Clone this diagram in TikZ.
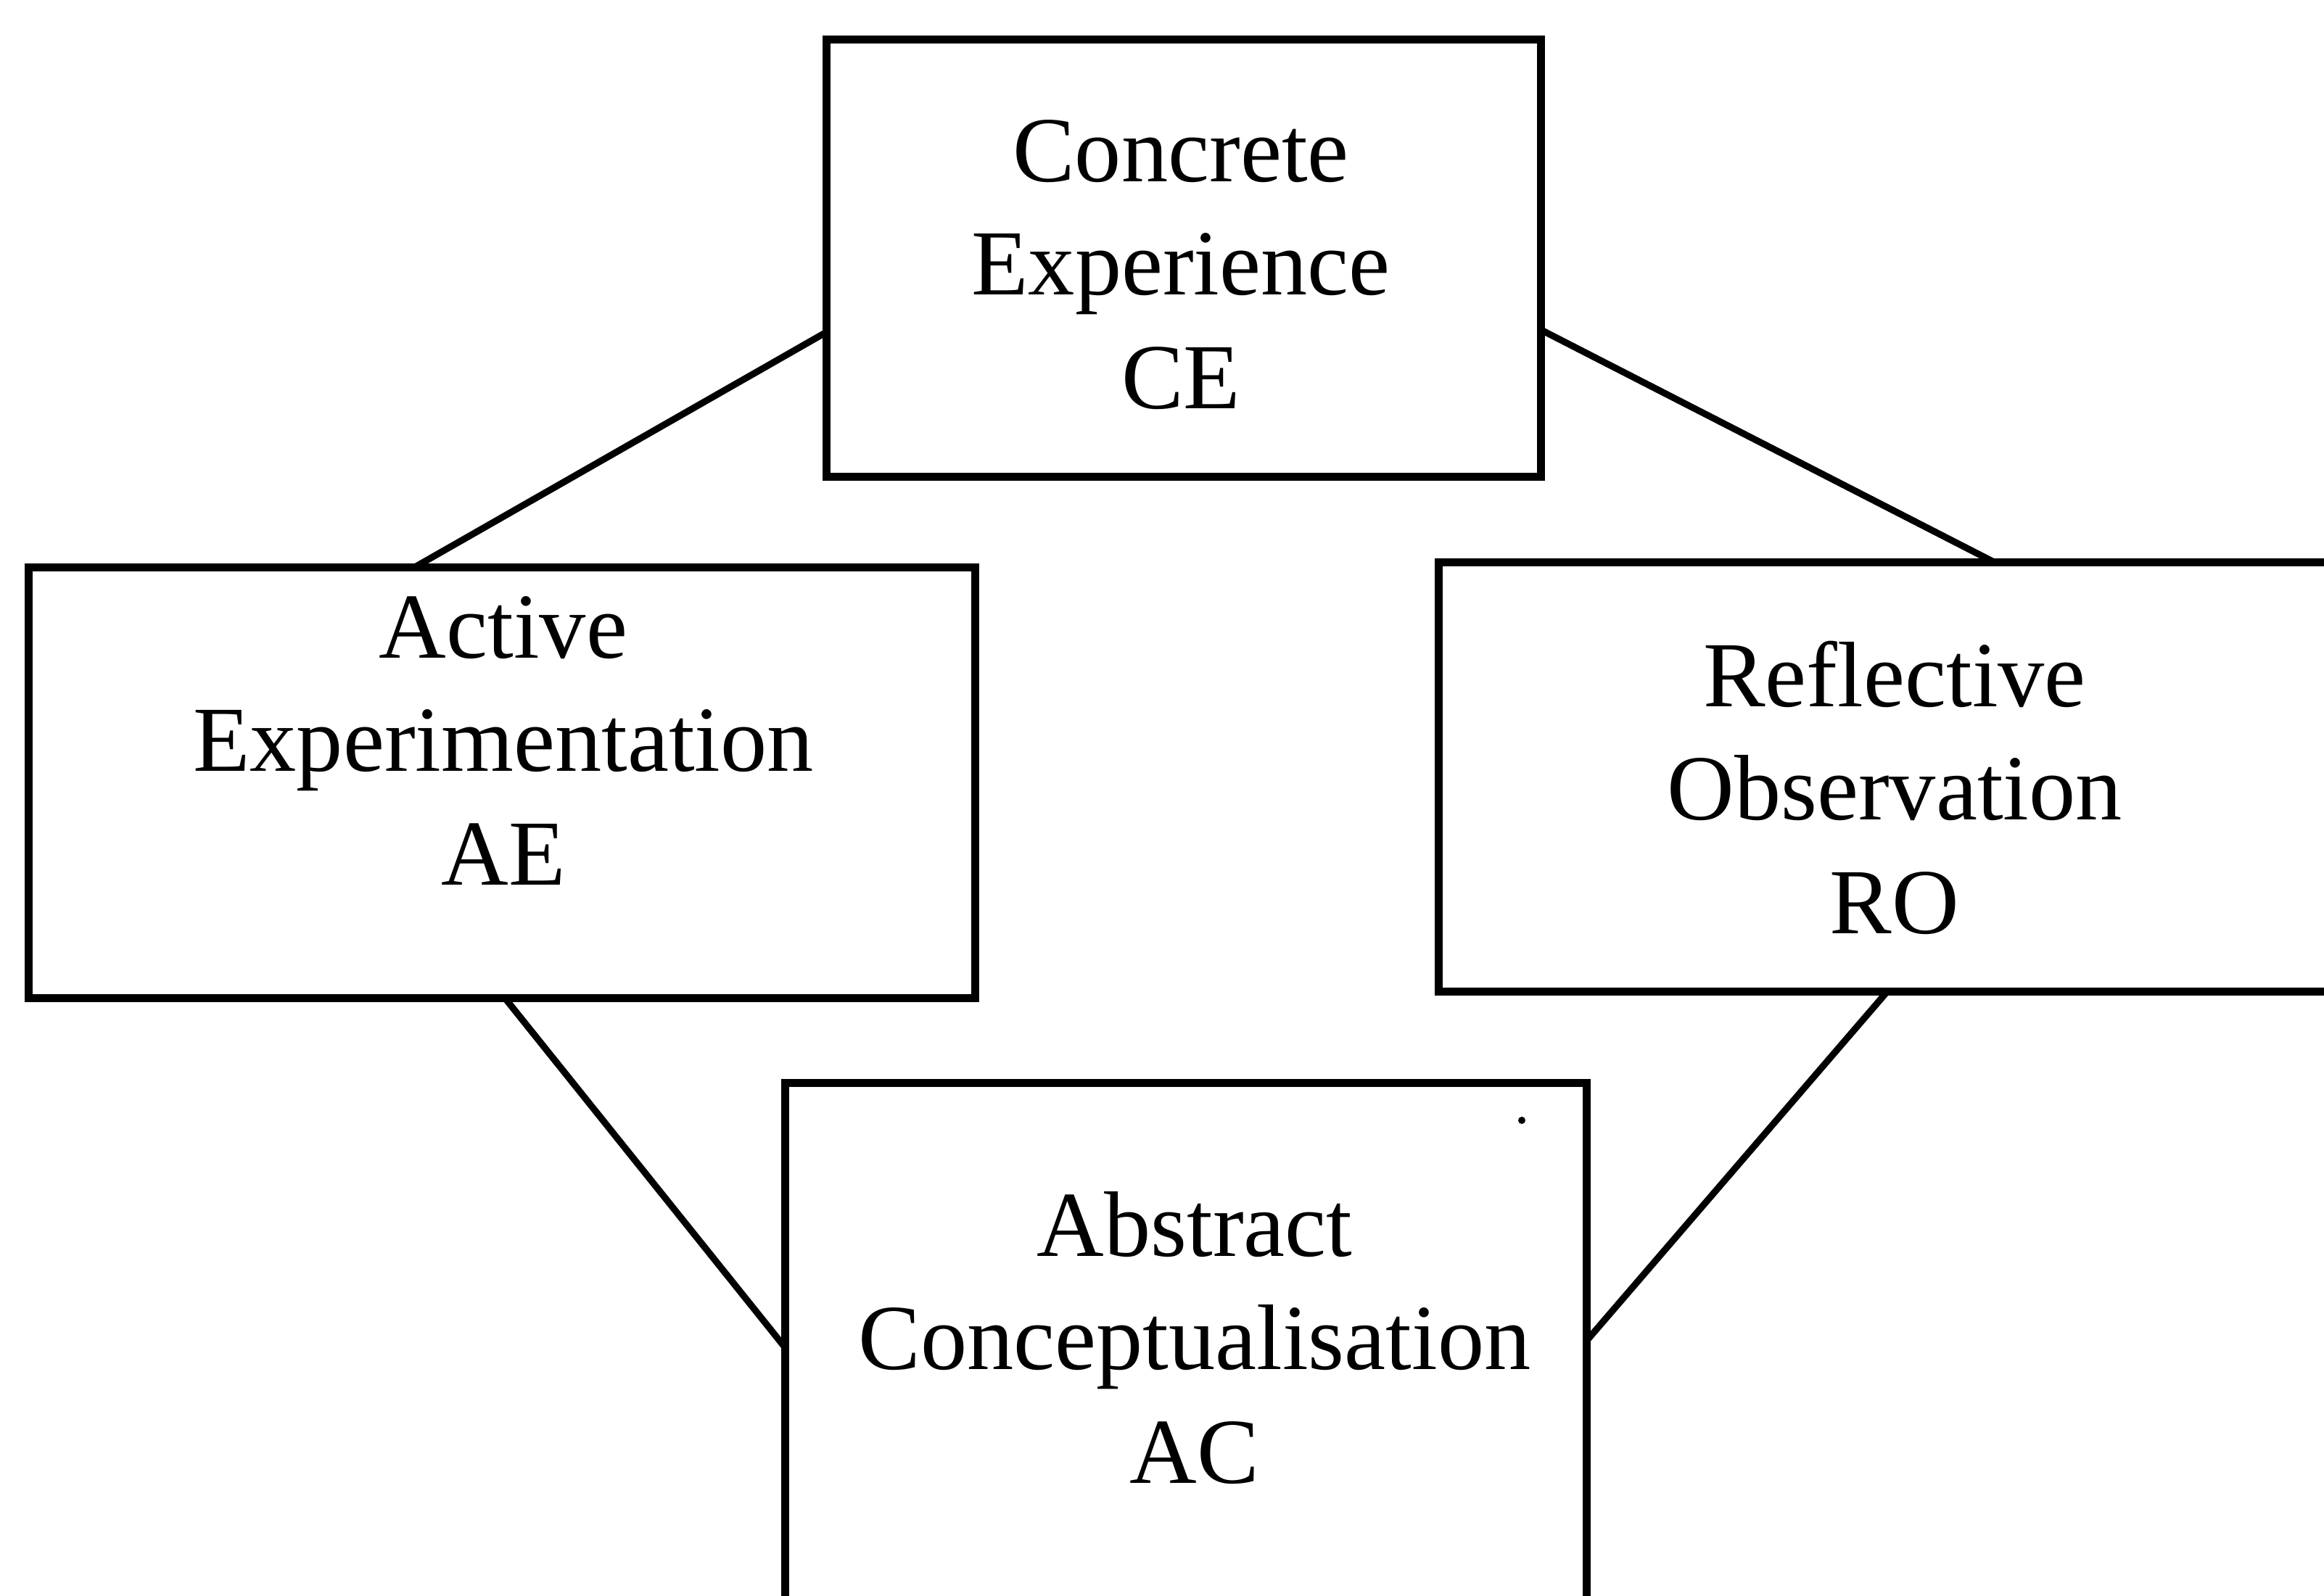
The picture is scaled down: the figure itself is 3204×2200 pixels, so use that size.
\documentclass[tikz,border=0pt]{standalone}
\usepackage{fontspec}
\setmainfont{Liberation Serif}
\usetikzlibrary{calc}
\begin{document}
\begin{tikzpicture}[x=0.01cm,y=-0.01cm,
  stagebox/.style={draw=black,line width=3.2pt,fill=none,inner sep=0pt,outer sep=0pt},
  stagetext/.style={anchor=base,align=center,inner sep=0pt,
    font=\fontsize{36.5}{44.4}\selectfont},
  link/.style={draw=black,line width=2.6pt}]
  \clip (0,0) rectangle (3204,2200);
  \fill[white] (0,0) rectangle (3204,2200);

  % the four stages of the cycle
  \node[stagebox,minimum width=9.84cm,minimum height=6.02cm] (ce) at (1632,356) {};
  \node[stagebox,minimum width=13.04cm,minimum height=5.93cm] (ae) at (692,1079.5) {};
  \node[stagebox,minimum width=12.46cm,minimum height=5.91cm] (ro) at (2607,1071.5) {};
  \node[stagebox,minimum width=11.04cm,minimum height=7.46cm] (ac) at (1635,1867) {};

  % stage labels (placed by the baseline of their last line)
  \node[stagetext] (cet) at (1628,563) {Concrete\\Experience\\CE};
  \node[stagetext] (aet) at (694,1220) {Active\\Experimentation\\AE};
  \node[stagetext] (rot) at (2612,1287) {Reflective\\Observation\\RO};
  \node[stagetext] (act) at (1647,2045) {Abstract\\Conceptualisation\\AC};

  % connecting lines
  \draw[link] ($(ce.north west)!0.669!(ce.south west)$) -- ($(ae.north west)!0.407!(ae.north east)$);
  \draw[link] ($(ce.north east)!0.664!(ce.south east)$) -- ($(ro.north west)!0.615!(ro.north east)$);
  \draw[link] ($(ae.south west)!0.503!(ae.south east)$) -- ($(ac.north west)!0.489!(ac.south west)$);
  \draw[link] ($(ro.south west)!0.496!(ro.south east)$) -- ($(ac.north east)!0.476!(ac.south east)$);

  % small speck inside the lower box
  \fill[black] (2098,1545) circle (0.05cm);
\end{tikzpicture}
\end{document}
